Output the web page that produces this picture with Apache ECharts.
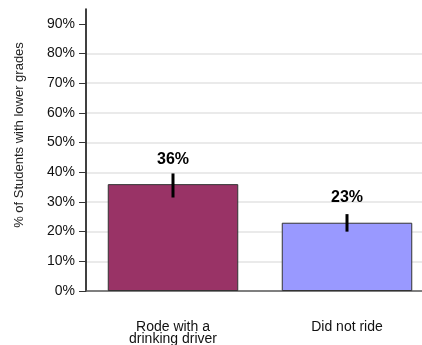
<!DOCTYPE html>
<html lang="en">
<head>
    <meta charset="UTF-8">
    <title>Students with lower grades</title>
    <script src="https://cdn.jsdelivr.net/npm/echarts@6.0.0/dist/echarts.min.js"></script>
    <style>
        html, body { margin: 0; padding: 0; background: #fff; }
        #chart { width: 422px; height: 345px; }
    </style>
</head>
<body>
    <div id="chart"></div>
    <script type="text/javascript">
        // data
        var categories = ['Rode with a\ndrinking driver', 'Did not ride'];
        var values = [36, 23];
        var errLow = [31.5, 20];
        var errHigh = [39.6, 25.9];
        var barColors = ['#993366', '#9999FF'];
        var yTicks = [0, 10, 20, 30, 40, 50, 60, 70, 80, 90];

        var font = '"Liberation Sans", Arial, sans-serif';
        var chart = echarts.init(document.getElementById('chart'));

        var option = {
            animation: false,
            // plot area runs past the right edge of the picture, as in the original
            grid: { left: 86, width: 348, top: 9, bottom: 54, outerBoundsMode: 'none' },
            xAxis: {
                type: 'category',
                data: categories,
                axisTick: { show: false },
                axisLine: { lineStyle: { color: '#555', width: 1.5 } },
                axisLabel: {
                    color: '#111', fontSize: 14, fontFamily: font,
                    margin: 30, lineHeight: 12
                }
            },
            yAxis: {
                type: 'value',
                min: 0, max: 95, interval: 10,
                axisLine: { show: true, lineStyle: { color: '#000', width: 1.5 } },
                axisTick: { show: true, length: 7, customValues: yTicks, lineStyle: { color: '#333' } },
                axisLabel: {
                    customValues: yTicks,
                    formatter: '{value}%',
                    color: '#111', fontSize: 14, fontFamily: font, margin: 11
                },
                splitLine: { showMinLine: false, showMaxLine: false, lineStyle: { color: '#e3e3e3', width: 1.5 } }
            },
            graphic: [{
                type: 'text',
                x: 19, y: 135,
                rotation: Math.PI / 2,
                style: {
                    text: '% of Students with lower grades',
                    fontSize: 13, fontFamily: font, fill: '#222',
                    align: 'center', verticalAlign: 'middle'
                }
            }],
            series: [
                {
                    type: 'bar',
                    barWidth: '75%',
                    data: values.map(function (v, i) {
                        return { value: v, itemStyle: { color: barColors[i] } };
                    }),
                    itemStyle: { borderColor: '#333', borderWidth: 1 },
                    label: {
                        show: true, position: 'top', distance: 17,
                        formatter: '{c}%', fontWeight: 'bold', fontSize: 16,
                        fontFamily: font, color: '#000'
                    }
                },
                {
                    type: 'custom',
                    data: errLow.map(function (lo, i) { return [i, lo, errHigh[i]]; }),
                    renderItem: function (params, api) {
                        var p1 = api.coord([api.value(0), api.value(1)]);
                        var p2 = api.coord([api.value(0), api.value(2)]);
                        return {
                            type: 'line',
                            shape: { x1: p1[0], y1: p1[1], x2: p2[0], y2: p2[1] },
                            style: { stroke: '#000', lineWidth: 3 }
                        };
                    },
                    z: 5
                }
            ]
        };

        chart.setOption(option);
    </script>
</body>
</html>
